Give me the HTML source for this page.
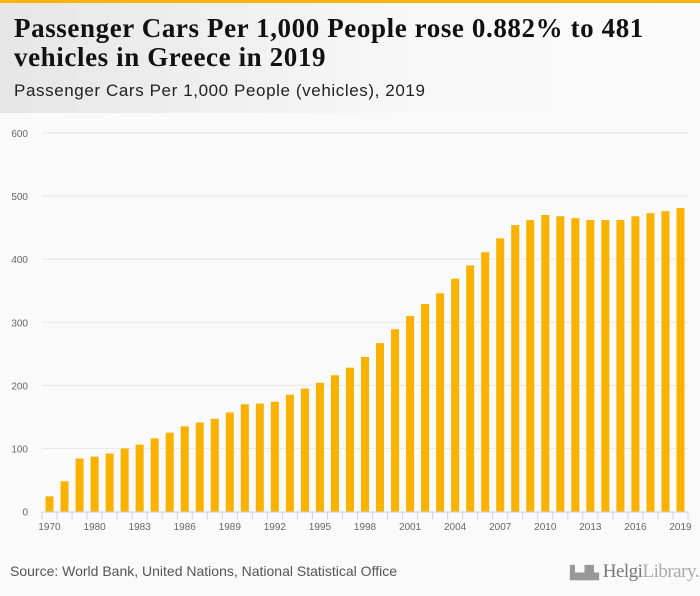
<!DOCTYPE html>
<html><head><meta charset="utf-8"><style>
body{margin:0;width:700px;height:596px;background:#fafafa;font-family:"Liberation Sans",sans-serif;overflow:hidden;position:relative}
#hdr{position:absolute;left:0;top:0;width:700px;height:113px;background:linear-gradient(90deg,#e6e6e6,#f8f8f8 60%,#fbfbfb)}
#topbar{position:absolute;left:0;top:0;width:700px;height:3px;background:#f9b200}
#title{position:absolute;left:14px;top:14px;font:bold 27px/29px "Liberation Serif",serif;color:#111;letter-spacing:0.6px;white-space:nowrap}
#sub{position:absolute;left:14px;top:81px;font:17px "Liberation Sans",sans-serif;color:#222;letter-spacing:0.6px}
#src{position:absolute;left:10px;top:563px;font:14px "Liberation Sans",sans-serif;color:#555}
#logo{position:absolute;left:570px;top:561px;font:19px "Liberation Serif",serif;color:#888;white-space:nowrap;letter-spacing:-0.5px}
</style></head><body>
<div id="hdr"></div>
<div id="topbar"></div>
<div id="title">Passenger Cars Per 1,000 People rose 0.882% to 481<br>vehicles in Greece in 2019</div>
<div id="sub">Passenger Cars Per 1,000 People (vehicles), 2019</div>
<svg id="chart" width="700" height="596" style="position:absolute;left:0;top:0"></svg>
<div id="src">Source: World Bank, United Nations, National Statistical Office</div>
<div id="logo"><span style="font-size:13px;color:#999">▙▟▙</span> <span style="color:#777">Helgi</span><span style="color:#aaa">Library.</span></div>
<script>
const categories=["1970","1975","1979","1980","1981","1982","1983","1984","1985","1986","1987","1988","1989","1990","1991","1992","1993","1994","1995","1996","1997","1998","1999","2000","2001","2002","2003","2004","2005","2006","2007","2008","2009","2010","2011","2012","2013","2014","2015","2016","2017","2018","2019"];
const values=[24,48,84,87,92,100,106,116,125,135,141,147,157,170,171,174,185,195,204,216,228,245,267,289,310,329,346,369,390,411,433,454,462,470,468,465,462,462,462,468,473,476,481];
const yTicks=[0,100,200,300,400,500,600];
const xLabelIdx=[0,3,6,9,12,15,18,21,24,27,30,33,36,39,42];
const NS="http://www.w3.org/2000/svg",svg=document.getElementById('chart');
const x0=42,x1=688,yBase=511.5,yTop=133;
const band=(x1-x0)/categories.length;
const y=v=>yBase-(v/600)*(yBase-yTop);
const xc=i=>x0+band*(i+0.5);
function mk(t,a){const e=document.createElementNS(NS,t);for(const k in a)e.setAttribute(k,a[k]);svg.appendChild(e);return e;}
yTicks.forEach(t=>{
 if(t>0){const g=mk('line',{x1:x0,x2:x1,y1:y(t),y2:y(t),stroke:'#e6e6e6','stroke-width':1});
 
 }
 const l=mk('text',{x:28,y:y(t)+4,'text-anchor':'end','font-size':10,fill:'#666','font-family':'Liberation Sans, sans-serif'});
 l.textContent=t;
 
 
});
values.forEach((v,i)=>{
 const r=mk('rect',{x:xc(i)-4,y:y(v),width:8,height:yBase-y(v),fill:'#fab200'});
 
 
});
const ax=mk('line',{x1:x0,x2:x1,y1:yBase+0.5,y2:yBase+0.5,stroke:'#c9d3e6','stroke-width':1});


for(let i=0;i<=categories.length;i++){
 const t=mk('line',{x1:x0+band*i,x2:x0+band*i,y1:yBase,y2:yBase+8,stroke:'#c9d3e6','stroke-width':1});
 
 
}
xLabelIdx.forEach(i=>{
 const l=mk('text',{x:xc(i),y:530,'text-anchor':'middle','font-size':10,fill:'#666','font-family':'Liberation Sans, sans-serif'});
 l.textContent=categories[i];
 
 
});
</script>
</body></html>
